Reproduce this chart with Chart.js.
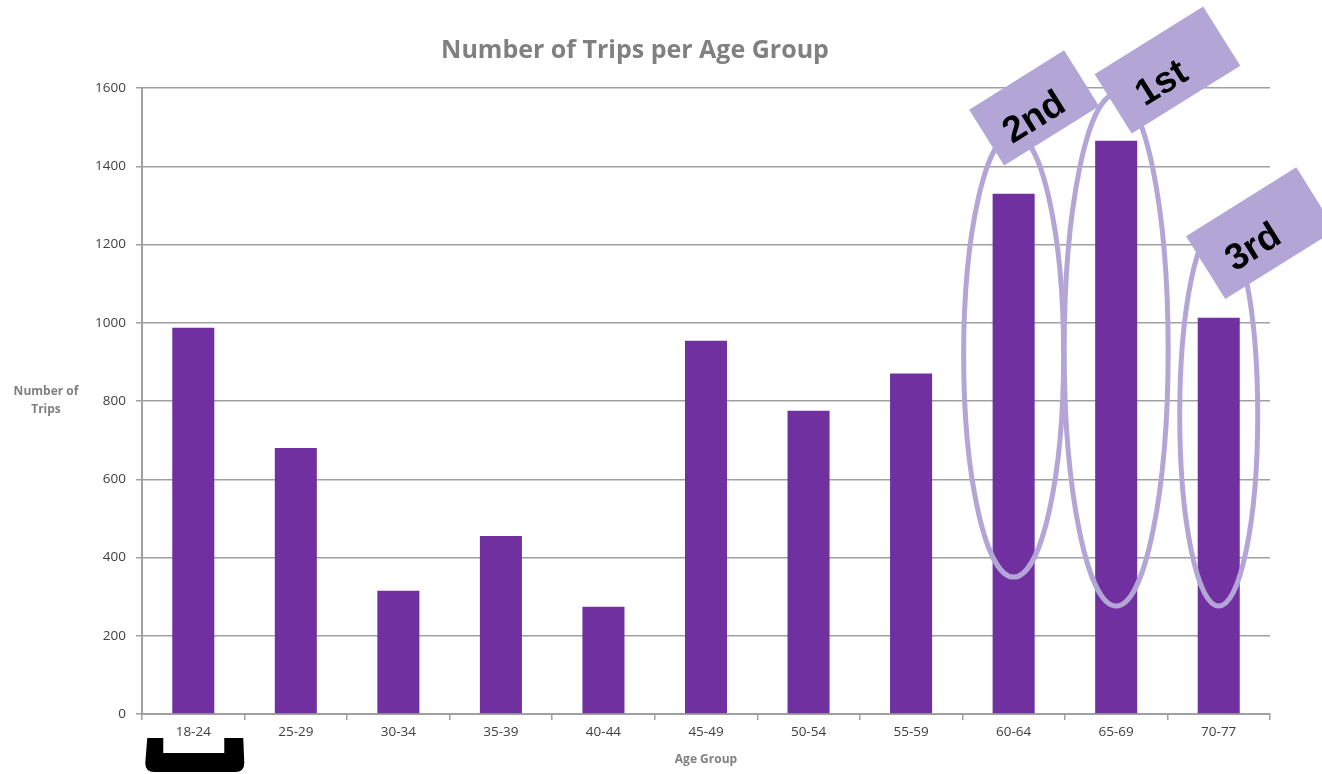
<!DOCTYPE html>
<html><head><meta charset="utf-8">
<script src="https://cdn.jsdelivr.net/npm/chart.js@4"></script>
<style>html,body{margin:0;padding:0;background:#fff;}#wrap{width:1322px;height:774px;}</style>
</head><body><div id="wrap"><canvas id="c" width="1322" height="774"></canvas></div>
<script>
// ---- data ----
const categories = ['18-24','25-29','30-34','35-39','40-44','45-49','50-54','55-59','60-64','65-69','70-77'];
const trips = [987, 680, 315, 455, 274, 954, 775, 870, 1330, 1465, 1013];
const yTickValues = [0, 200, 400, 600, 800, 1000, 1200, 1400, 1600];
const rankLabels = ['2nd', '1st', '3rd'];
const rankCategories = ['60-64', '65-69', '70-77'];
const highlightCategory = '18-24';

// ---- annotation geometry (decoration) ----
const annot = {
  ellipseCenterVal: [917, 930, 764],
  ellipseBottomVal: [350, 276, 276],
  ellipseRx: [50, 52, 39],
  boxOffset: [0.2, 0.5, 0.41],
  boxVal: [1549, 1646, 1229],
  boxW: [112, 128, 130],
  boxH: [66, 70, 74],
  textShiftX: [-5, -12, -14],
  textShiftY: 9,
  angle: -32 * Math.PI / 180,
  color: '#b3a6d6'
};

const FONT = "'Open Sans', 'Liberation Sans', sans-serif";

const overlay = {
  id: 'overlay',
  afterDraw(chart) {
    const ctx = chart.ctx, x = chart.scales.x, y = chart.scales.y;
    ctx.save();
    // y-axis title (horizontal)
    ctx.fillStyle = '#808080';
    ctx.font = "bold 12px " + FONT;
    ctx.textAlign = 'center';
    ctx.textBaseline = 'middle';
    ctx.fillText('Number of', 46, 392);
    ctx.fillText('Trips', 46, 410);

    // ellipses
    ctx.strokeStyle = annot.color;
    ctx.lineWidth = 5;
    rankCategories.forEach((cat, i) => {
      const cx = x.getPixelForValue(categories.indexOf(cat));
      const cy = y.getPixelForValue(annot.ellipseCenterVal[i]);
      const ry = y.getPixelForValue(annot.ellipseBottomVal[i]) - cy;
      ctx.beginPath();
      ctx.ellipse(cx, cy, annot.ellipseRx[i], ry, 0, 0, Math.PI * 2);
      ctx.stroke();
    });
    // rotated label boxes
    rankCategories.forEach((cat, i) => {
      const cx = x.getPixelForValue(categories.indexOf(cat) + annot.boxOffset[i]);
      const cy = y.getPixelForValue(annot.boxVal[i]);
      ctx.save();
      ctx.translate(cx, cy);
      ctx.rotate(annot.angle);
      ctx.fillStyle = annot.color;
      ctx.fillRect(-annot.boxW[i] / 2, -annot.boxH[i] / 2, annot.boxW[i], annot.boxH[i]);
      ctx.fillStyle = '#000';
      ctx.font = "bold 37px 'Liberation Sans', Arial, sans-serif";
      ctx.textAlign = 'center';
      ctx.textBaseline = 'middle';
      ctx.fillText(rankLabels[i], annot.textShiftX[i], annot.textShiftY);
      ctx.restore();
    });
    // black bracket under highlighted category
    const bx = x.getPixelForValue(categories.indexOf(highlightCategory));
    const L = bx - 48, R = bx + 51, iL = bx - 30, iR = bx + 31;
    const top = 738, bot = 772, inner = 753, r = 9;
    ctx.fillStyle = '#000';
    ctx.beginPath();
    ctx.moveTo(L + 2, top);
    ctx.lineTo(L, bot - r);
    ctx.quadraticCurveTo(L, bot, L + r, bot);
    ctx.lineTo(R - r, bot);
    ctx.quadraticCurveTo(R, bot, R, bot - r);
    ctx.lineTo(R - 1, top);
    ctx.lineTo(iR, top);
    ctx.lineTo(iR, inner);
    ctx.lineTo(iL, inner);
    ctx.lineTo(iL, top);
    ctx.closePath();
    ctx.fill();
    ctx.restore();
  }
};

new Chart(document.getElementById('c'), {
  type: 'bar',
  data: {
    labels: categories,
    datasets: [{
      label: 'Number of Trips',
      data: trips,
      backgroundColor: '#7030a0',
      borderWidth: 0,
      barPercentage: 0.41,
      categoryPercentage: 1.0
    }]
  },
  options: {
    responsive: false,
    animation: false,
    devicePixelRatio: 1,
    layout: { padding: { top: 2, right: 52, bottom: 0, left: 0 } },
    plugins: {
      legend: { display: false },
      tooltip: { enabled: false },
      title: {
        display: true,
        text: 'Number of Trips per Age Group',
        color: '#808080',
        font: { family: FONT, size: 25, weight: 'bold' },
        padding: { top: 34, bottom: 22 }
      }
    },
    scales: {
      x: {
        grid: { display: true, drawOnChartArea: false, drawTicks: true, tickLength: 6, color: '#a0a0a0', lineWidth: 1.5, offset: true },
        border: { color: '#a0a0a0', width: 2 },
        ticks: { color: '#404040', font: { family: FONT, size: 13.5 }, padding: 4, maxRotation: 0 },
        title: { display: true, text: 'Age Group', color: '#808080', font: { family: FONT, size: 12, weight: 'bold' }, padding: { top: 2, bottom: 7 } },
        afterFit(s) { s.height = 60; }
      },
      y: {
        min: 0, max: 1600,
        afterBuildTicks(s) { s.ticks = yTickValues.map(v => ({ value: v })); },
        grid: { color: '#a0a0a0', lineWidth: 1.5, tickLength: 6 },
        border: { color: '#a0a0a0', width: 2 },
        ticks: { color: '#404040', font: { family: FONT, size: 13.5 }, padding: 10, callback: v => String(v) },
        afterFit(s) { s.width = 142; }
      }
    }
  },
  plugins: [overlay]
});
</script>
</body></html>
